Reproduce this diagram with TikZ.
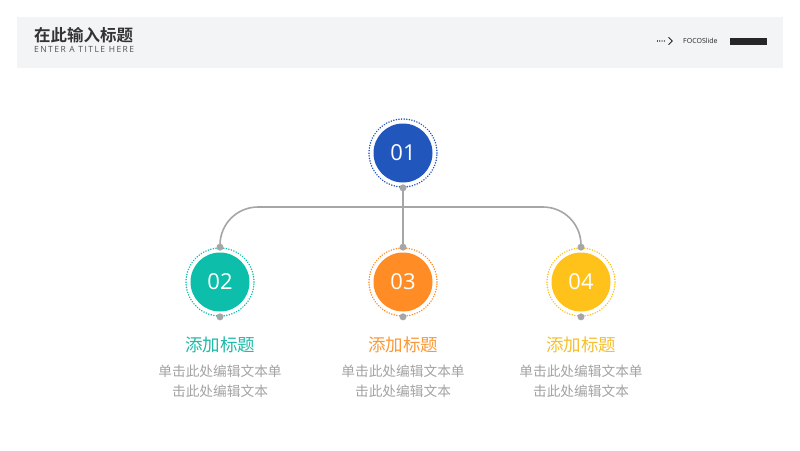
\documentclass[tikz,border=0pt]{standalone}
\usepackage{fontspec}
\setmainfont{Open Sans}
\newfontfamily\cjk{Noto Sans CJK SC}
\newfontfamily\cjkb{Noto Sans CJK SC Bold}
\newfontfamily\osans{Open Sans}
\definecolor{hdrbg}{HTML}{F3F4F6}
\definecolor{cblue}{HTML}{2157BD}
\definecolor{cteal}{HTML}{0DBFAA}
\definecolor{corange}{HTML}{FF8C24}
\definecolor{cyellow}{HTML}{FFC21A}
\definecolor{tteal}{HTML}{1DBBA8}
\definecolor{torange}{HTML}{F99A3A}
\definecolor{tyellow}{HTML}{F6C12E}
\definecolor{linegray}{HTML}{A6A6A6}
\definecolor{bodygray}{HTML}{A3A3A3}
\definecolor{titlegray}{HTML}{333333}
\tikzset{
  numcircle/.style={circle, minimum size=59pt, inner sep=0pt, text=white, font=\osans\fontsize{22}{22}\selectfont},
  ring/.style={circle, minimum size=68pt, inner sep=0pt, draw, line width=1.7pt, dash pattern=on 0.01pt off 2.6pt, line cap=round},
  pin/.style={circle, fill=linegray, minimum size=7pt, inner sep=0pt},
  conn/.style={draw=linegray, line width=1.6pt},
  head/.style={font=\cjk\fontsize{17.5}{17.5}\selectfont, anchor=center},
  body/.style={font=\cjk\fontsize{13.7}{20}\selectfont, text=bodygray, align=center, anchor=north}
}
\begin{document}
\begin{tikzpicture}[x=1pt,y=-1pt]
\useasboundingbox (0,0) rectangle (800,450);
\fill[white] (0,0) rectangle (800,450);
% header
\fill[hdrbg] (17,17) rectangle (783,68);
\node[anchor=west, inner sep=0pt, text=titlegray, font=\cjkb\fontsize{16.5}{16.5}\selectfont] (title) at (34,35) {在此输入标题};
\node[anchor=west, inner sep=0pt, text=titlegray!85, font=\osans\fontsize{8.5}{8.5}\selectfont] (subtitle) at (34,49.5) {\addfontfeature{LetterSpace=17}ENTER A TITLE HERE};
\coordinate (dotsL) at (657.5,41);
\coordinate (dotsR) at (666.5,41);
\draw[black!80, line width=1.1pt, dash pattern=on 0.01pt off 2.25pt, line cap=round] (dotsL) -- (dotsR);
\draw[black!85, line width=1pt] (668.5,37.3) -- (672.2,41) -- (668.5,44.7);
\node[anchor=west, inner sep=0pt, font=\osans\fontsize{7}{7}\selectfont, text=black!85] (brand) at (683,41) {FOCOSlide};
\fill[black!85] (730,38) rectangle (767,44.5);
% circles
\node[ring, draw=cblue] (r1) at (403,153) {};
\node[numcircle, fill=cblue] (c1) at (403,153) {01};
\node[ring, draw=cteal] (r2) at (220,282) {};
\node[numcircle, fill=cteal] (c2) at (220,282) {02};
\node[ring, draw=corange] (r3) at (403,282) {};
\node[numcircle, fill=corange] (c3) at (403,282) {03};
\node[ring, draw=cyellow] (r4) at (581,282) {};
\node[numcircle, fill=cyellow] (c4) at (581,282) {04};
% pins
\node[pin] (p1b) at (r1.south) {};
\node[pin] (p2t) at (r2.north) {};
\node[pin] (p2b) at (r2.south) {};
\node[pin] (p3t) at (r3.north) {};
\node[pin] (p3b) at (r3.south) {};
\node[pin] (p4t) at (r4.north) {};
\node[pin] (p4b) at (r4.south) {};
% connectors
\coordinate (hy) at (403,207);
\draw[conn] (p1b.center) -- (p3t.center);
\draw[conn, rounded corners=38pt] (p2t.center) -- (p2t.center |- hy) -- (p4t.center |- hy) -- (p4t.center);
% texts
\node[head, text=tteal] (h2) at (220,345) {添加标题};
\node[head, text=torange] (h3) at (403,345) {添加标题};
\node[head, text=tyellow] (h4) at (581,345) {添加标题};
\node[body] (b2) at (220,361) {单击此处编辑文本单\\击此处编辑文本};
\node[body] (b3) at (403,361) {单击此处编辑文本单\\击此处编辑文本};
\node[body] (b4) at (581,361) {单击此处编辑文本单\\击此处编辑文本};
\end{tikzpicture}
\end{document}
